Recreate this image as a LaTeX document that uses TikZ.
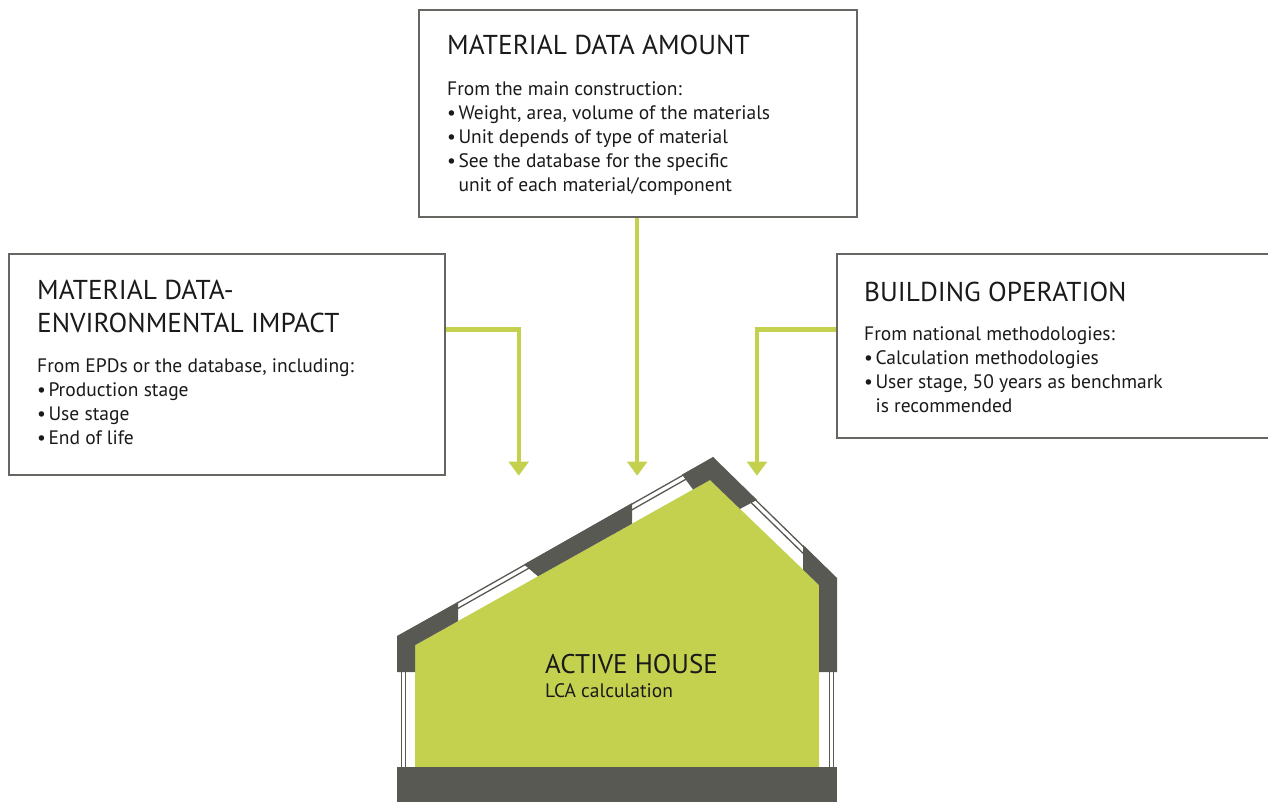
\documentclass[tikz,border=0pt]{standalone}
\usepackage{fontspec}
\setmainfont{PT Sans}
\usetikzlibrary{arrows.meta}

\definecolor{leaf}{HTML}{C4D14E}
\definecolor{shell}{HTML}{595953}
\definecolor{boxgray}{HTML}{666662}
\definecolor{ink}{HTML}{1A1A1A}

% bullet with a tight gap before the item text
\newcommand{\bulletmark}{•\hspace{2.5pt}}

\tikzset{
  box/.style={draw=boxgray, line width=2.2pt, fill=white, rectangle, inner sep=0pt},
  flow/.style={draw=leaf, line width=4.3pt, line join=miter,
               -{Triangle[width=19.5pt,length=14pt]}},
  ttl/.style={anchor=base west, inner sep=0pt, text=ink, font=\fontsize{27.3}{31}\selectfont},
  bdy/.style={anchor=base west, inner sep=0pt, text=ink, font=\fontsize{19.5}{24}\selectfont},
  solid wall/.style={fill=shell, draw=none},
  pane/.style={draw=shell, line width=1.3pt},
}

\begin{document}
\begin{tikzpicture}[x=1pt, y=-1pt]
  \useasboundingbox (0,0) rectangle (1268,802);
  \clip (0,0) rectangle (1268,802);
  \fill[white] (0,0) rectangle (1268,802);

  % ---- information boxes ----
  \node[box, minimum width=437.7pt, minimum height=207pt]   (amount)    at (637.8,113.5) {};
  \node[box, minimum width=436pt,   minimum height=221.3pt] (impact)    at (227,364.7) {};
  \node[box, minimum width=440pt,   minimum height=184.3pt] (operation) at (1056.7,346.2) {};

  % MATERIAL DATA AMOUNT
  \node[ttl] (amT)  at (447,55)  {MATERIAL DATA AMOUNT};
  \node[bdy] (amB0) at (447,96)  {From the main construction:};
  \node[bdy] (amB1) at (447,120) {\bulletmark Weight, area, volume of the materials};
  \node[bdy] (amB2) at (447,144) {\bulletmark Unit depends of type of material};
  \node[bdy] (amB3) at (447,168) {\bulletmark See the database for the specific};
  \node[bdy] (amB4) at (447,192) {\phantom{\bulletmark}unit of each material/component};

  % MATERIAL DATA - ENVIRONMENTAL IMPACT
  \node[ttl] (imT0) at (37,299)  {MATERIAL DATA-};
  \node[ttl] (imT1) at (37,332)  {ENVIRONMENTAL IMPACT};
  \node[bdy] (imB0) at (37,372)  {From EPDs or the database, including:};
  \node[bdy] (imB1) at (37,396)  {\bulletmark Production stage};
  \node[bdy] (imB2) at (37,420)  {\bulletmark Use stage};
  \node[bdy] (imB3) at (37,444)  {\bulletmark End of life};

  % BUILDING OPERATION
  \node[ttl] (opT)  at (864,301) {BUILDING OPERATION};
  \node[bdy] (opB0) at (864,340) {From national methodologies:};
  \node[bdy] (opB1) at (864,364) {\bulletmark Calculation methodologies};
  \node[bdy] (opB2) at (864,388) {\bulletmark User stage, 50 years as benchmark};
  \node[bdy] (opB3) at (864,412) {\phantom{\bulletmark}is recommended};

  % ---- arrows into the house ----
  \coordinate (tipL) at (518.7,475.7);
  \coordinate (tipM) at (637.2,475.7);
  \coordinate (tipR) at (757,475.7);
  \coordinate (bendL) at (518.7,329.5);
  \coordinate (bendR) at (757,329.5);
  \draw[flow] (bendL -| impact.east) -- (bendL) -- (tipL);
  \draw[flow] (tipM |- amount.south) -- (tipM);
  \draw[flow] (bendR -| operation.west) -- (bendR) -- (tipR);

  % ---- house section ----
  % interior
  \fill[leaf] (415,767) -- (415,645.2) -- (710,480) -- (819,585) -- (819,767) -- cycle;

  % window frames (roof slopes and walls), partly covered by the solid parts
  \draw[pane] (397.5,636.9) -- (713.5,457.9);
  \draw[pane] (400.0,641.2) -- (716.0,462.2);
  \draw[pane] (712.3,457.7) -- (836.3,578.7);
  \draw[pane] (708.8,461.3) -- (832.8,582.3);
  \draw[pane] (401.5,650) -- (401.5,767);
  \draw[pane] (405.5,650) -- (405.5,767);
  \draw[pane] (829.5,590) -- (829.5,767);
  \draw[pane] (833.5,590) -- (833.5,767);

  % solid parts of the envelope
  \fill[solid wall] (397,672) -- (397,636) -- (458,602.1) -- (458,621.1)
                   -- (415,645.2) -- (415,672) -- cycle;
  \fill[solid wall] (524,564.5) -- (632,503.1) -- (632,523.7) -- (538,576.3) -- cycle;
  \fill[solid wall] (682,474.6) -- (713,457) -- (757,499.9) -- (740,508.9)
                   -- (710,480) -- (693,489.5) -- cycle;
  \fill[solid wall] (803,544.8) -- (837,578) -- (837,672) -- (819,672)
                   -- (819,585) -- (803,569.6) -- cycle;
  % floor slab
  \fill[solid wall] (397,767) rectangle (837,805);

  % house label
  \node[ttl, font=\fontsize{27}{31}\selectfont] (hT) at (545,673) {ACTIVE HOUSE};
  \node[bdy] (hS) at (545,697) {LCA calculation};
\end{tikzpicture}
\end{document}
